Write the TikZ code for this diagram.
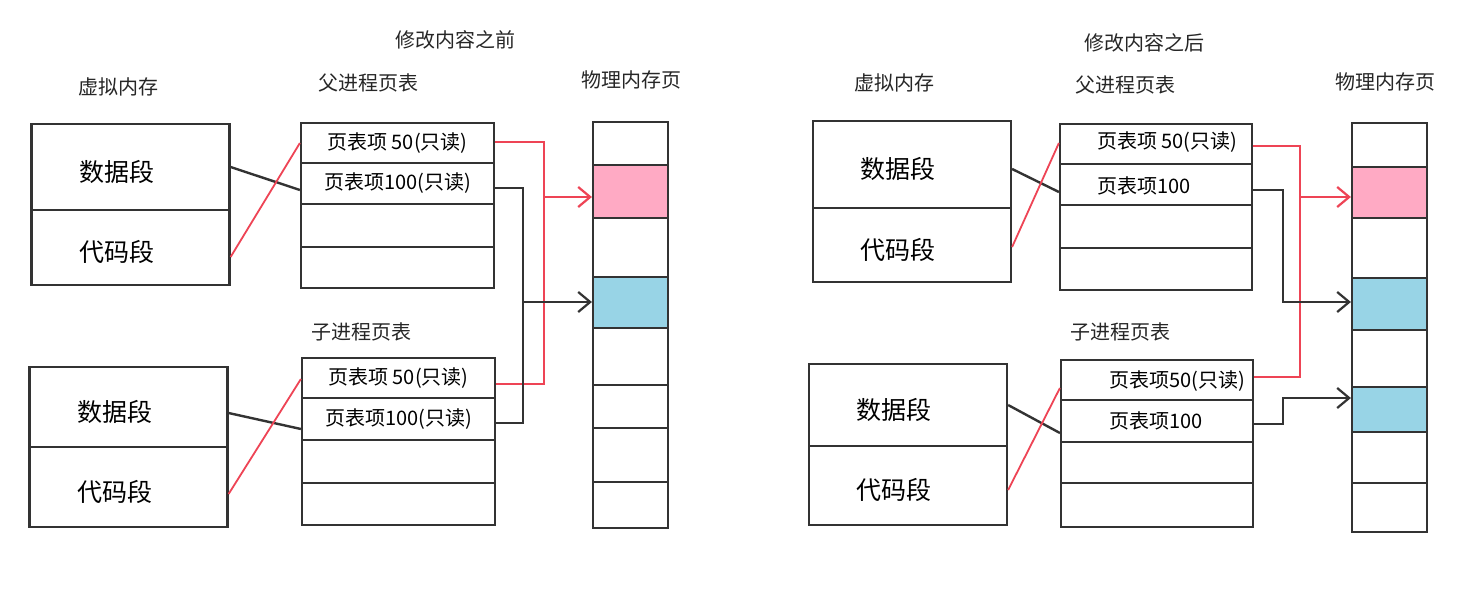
\documentclass[tikz,border=0pt]{standalone}
\usepackage{fontspec}
\newfontfamily\cjk{Noto Sans CJK SC}
\usetikzlibrary{arrows.meta,calc}
\definecolor{ink}{HTML}{333333}
\definecolor{redl}{HTML}{EE4455}
\definecolor{pinkc}{HTML}{FFAAC4}
\definecolor{bluec}{HTML}{98D4E6}
\begin{document}
\begin{tikzpicture}[x=1pt,y=-1pt,
  cell/.style={draw=ink,line width=2.2pt,rectangle,inner sep=0pt},
  vseg/.style={cell,minimum width=198pt,font=\cjk\fontsize{25}{28}\selectfont,
    execute at begin node={\rule{0pt}{31pt}},execute at end node={\hspace{28pt}}},
  prow/.style={cell,minimum width=193pt,font=\cjk\fontsize{20}{23}\selectfont},
  mem/.style={cell,minimum width=75pt},
  rtxt/.style={anchor=west,inner sep=0pt,font=\cjk\fontsize{20}{23}\selectfont},
  head/.style={font=\cjk\fontsize{20}{23}\selectfont,text=black!85},
  bl/.style={draw=ink,line width=2.4pt},
  rl/.style={draw=redl,line width=1.8pt},
  arr/.style={-{Straight Barb[length=12pt,width=20pt,line width=2.2pt]}}
]
\useasboundingbox[fill=white] (0,0) rectangle (1463,589);

% ---------------- left: before ----------------
\node[head] (Ltitle) at (455,40) {修改内容之前};
\node[head] (Lvh) at (118,87) {虚拟内存};
\node[head] (Lph) at (368,83) {父进程页表};
\node[head] (Lmh) at (631,80) {物理内存页};
\node[head] (Lch) at (361,332) {子进程页表};

\node[vseg,minimum height=86pt] (Lvd1) at (130.5,167) {数据段};
\node[vseg,minimum height=75pt] (Lvc1) at (130.5,247.5) {代码段};
\node[vseg,minimum height=80pt] (Lvd2) at (128.5,407) {数据段};
\node[vseg,minimum height=80pt] (Lvc2) at (128.5,487) {代码段};

\node[prow,minimum height=40pt] (Lp1) at (397.5,143) {页表项 50(只读)};
\node[prow,minimum height=41pt] (Lp2) at (397.5,183.5) {页表项100(只读)};
\node[prow,minimum height=43pt] (Lp3) at (397.5,225.5) {};
\node[prow,minimum height=41pt] (Lp4) at (397.5,267.5) {};

\node[prow,minimum height=40pt] (Lc1) at (398.5,378) {页表项 50(只读)};
\node[prow,minimum height=42pt] (Lc2) at (398.5,419) {页表项100(只读)};
\node[prow,minimum height=43pt] (Lc3) at (398.5,461.5) {};
\node[prow,minimum height=42pt] (Lc4) at (398.5,504) {};

\node[mem,minimum height=43pt] (Lm1) at (630.5,143.5) {};
\node[mem,minimum height=53pt,fill=pinkc] (Lm2) at (630.5,191.5) {};
\node[mem,minimum height=59pt] (Lm3) at (630.5,247.5) {};
\node[mem,minimum height=51pt,fill=bluec] (Lm4) at (630.5,302.5) {};
\node[mem,minimum height=57pt] (Lm5) at (630.5,356.5) {};
\node[mem,minimum height=43pt] (Lm6) at (630.5,406.5) {};
\node[mem,minimum height=54pt] (Lm7) at (630.5,455) {};
\node[mem,minimum height=46pt] (Lm8) at (630.5,505) {};

\coordinate (Lr) at (544,197);
\coordinate (Lk) at (523,302);
\draw[bl] (Lvd1.east) -- ([yshift=-6.5pt]Lp2.west);
\draw[rl] ([yshift=-9.5pt]Lvc1.east) -- (Lp1.west);
\draw[bl] ([yshift=-6pt]Lvd2.east) -- ([yshift=-10pt]Lc2.west);
\draw[rl] ([yshift=-7pt]Lvc2.east) -- ([yshift=-1pt]Lc1.west);
\draw[rl,arr] ([yshift=1pt]Lp1.east) -| (Lr) -- (Lr -| Lm2.west);
\draw[rl] ([yshift=-6pt]Lc1.east) -| (Lr);
\draw[bl,arr] ([yshift=-4.5pt]Lp2.east) -| (Lk) -- (Lk -| Lm4.west);
\draw[bl] ([yshift=-4pt]Lc2.east) -| (Lk);

% ---------------- right: after ----------------
\node[head] (Rtitle) at (1144,43) {修改内容之后};
\node[head] (Rvh) at (894,83) {虚拟内存};
\node[head] (Rph) at (1125,85) {父进程页表};
\node[head] (Rmh) at (1385,82) {物理内存页};
\node[head] (Rch) at (1120,332) {子进程页表};

\node[vseg,minimum height=87pt] (Rvd1) at (912,164.5) {数据段};
\node[vseg,minimum height=74pt] (Rvc1) at (912,245) {代码段};
\node[vseg,minimum height=82pt] (Rvd2) at (908,405) {数据段};
\node[vseg,minimum height=79pt] (Rvc2) at (908,485.5) {代码段};

\node[prow,minimum width=192pt,minimum height=40pt] (Rp1) at (1156,144) {};
\node[prow,minimum width=192pt,minimum height=41pt] (Rp2) at (1156,184.5) {};
\node[prow,minimum width=192pt,minimum height=43pt] (Rp3) at (1156,226.5) {};
\node[prow,minimum width=192pt,minimum height=42pt] (Rp4) at (1156,269) {};
\node[rtxt] (Rp1t) at ([xshift=38pt,yshift=2pt]Rp1.west) {页表项 50(只读)};
\node[rtxt] (Rp2t) at ([xshift=38pt,yshift=-1pt]Rp2.west) {页表项100};

\node[prow,minimum width=192pt,minimum height=40pt] (Rc1) at (1157,380) {};
\node[prow,minimum width=192pt,minimum height=42pt] (Rc2) at (1157,421) {};
\node[prow,minimum width=192pt,minimum height=41pt] (Rc3) at (1157,462.5) {};
\node[prow,minimum width=192pt,minimum height=44pt] (Rc4) at (1157,505) {};
\node[rtxt] (Rc1t) at ([xshift=49pt,yshift=-1pt]Rc1.west) {页表项50(只读)};
\node[rtxt] (Rc2t) at ([xshift=49pt,yshift=0pt]Rc2.west) {页表项100};

\node[mem,minimum height=44pt] (Rm1) at (1389.5,145) {};
\node[mem,minimum height=51pt,fill=pinkc] (Rm2) at (1389.5,192.5) {};
\node[mem,minimum height=60pt] (Rm3) at (1389.5,248) {};
\node[mem,minimum height=52pt,fill=bluec] (Rm4) at (1389.5,304) {};
\node[mem,minimum height=57pt] (Rm5) at (1389.5,358.5) {};
\node[mem,minimum height=45pt,fill=bluec] (Rm6) at (1389.5,409.5) {};
\node[mem,minimum height=51pt] (Rm7) at (1389.5,457.5) {};
\node[mem,minimum height=49pt] (Rm8) at (1389.5,507.5) {};

\coordinate (Rr) at (1300,197);
\coordinate (Rk) at (1283,302);
\coordinate (Rk2) at (1283,398);
\draw[bl] ([yshift=-4.5pt]Rvd1.east) -- ([yshift=-7.5pt]Rp2.west);
\draw[rl] ([yshift=-2pt]Rvc1.east) -- ([yshift=1pt]Rp1.west);
\draw[bl] (Rvd2.east) -- ([yshift=-12pt]Rc2.west);
\draw[rl] ([yshift=-4.5pt]Rvc2.east) -- ([yshift=-8pt]Rc1.west);
\draw[rl,arr] ([yshift=-2pt]Rp1.east) -| (Rr) -- (Rr -| Rm2.west);
\draw[rl] ([yshift=3pt]Rc1.east) -| (Rr);
\draw[bl,arr] ([yshift=-5.5pt]Rp2.east) -| (Rk) -- (Rk -| Rm4.west);
\draw[bl,arr] ([yshift=-3pt]Rc2.east) -| (Rk2) -- (Rk2 -| Rm6.west);
\end{tikzpicture}
\end{document}
